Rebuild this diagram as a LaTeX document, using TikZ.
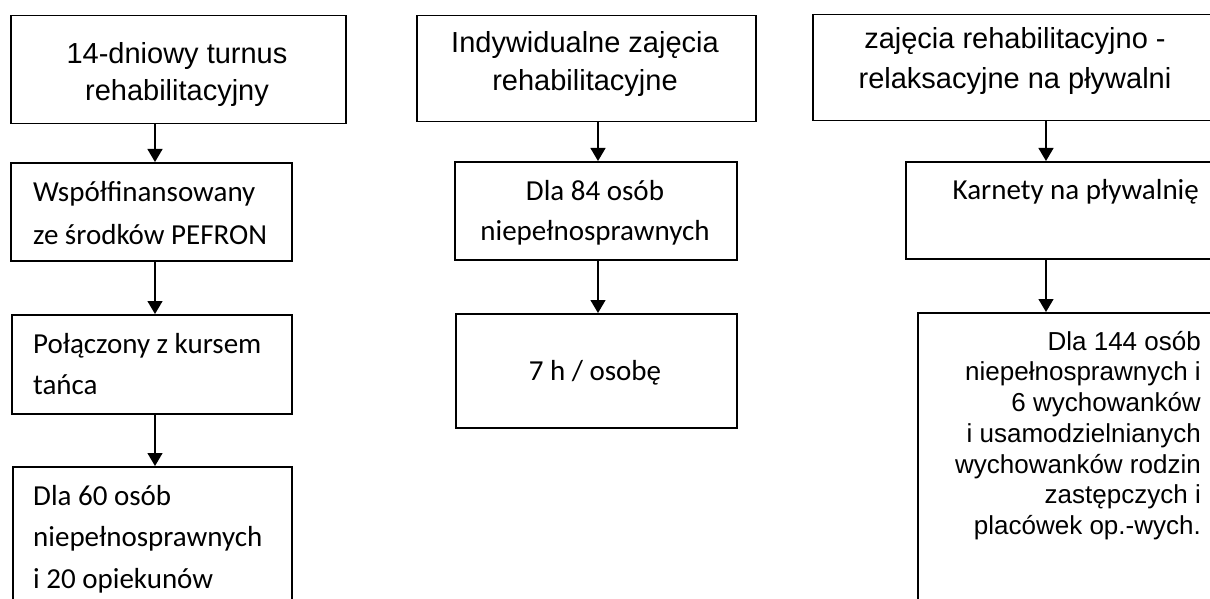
\documentclass[tikz,border=0pt]{standalone}
\usepackage{fontspec}
\setmainfont{Liberation Sans}
\newfontfamily\calib{Carlito}
\usetikzlibrary{arrows.meta}
\newcommand\topst{\rule{0pt}{30pt}}
\begin{document}
\begin{tikzpicture}[x=1pt,y=-1pt,
  box/.style={draw, line width=1.5pt, rectangle, inner sep=0pt, anchor=north west},
  arr/.style={line width=1.3pt, -{Triangle[length=13pt,width=15pt]}},
  ar/.style={inner sep=0pt, align=center, font=\fontsize{29}{37}\selectfont},
  cb/.style={inner sep=0pt, align=left, font=\calib\fontsize{29}{42}\selectfont},
]
\useasboundingbox (0,0) rectangle (1210,599);
\clip (0,0) rectangle (1210,599);

% boxes
\node[box, minimum width=335pt, minimum height=108pt] (a1) at (10,15) {};
\node[box, minimum width=281pt, minimum height=98pt] (a2) at (10,162) {};
\node[box, minimum width=280pt, minimum height=99pt] (a3) at (11,314) {};
\node[box, minimum width=279pt, minimum height=200pt] (a4) at (12,466) {};
\node[box, minimum width=339pt, minimum height=106pt] (b1) at (416,15) {};
\node[box, minimum width=282pt, minimum height=98pt] (b2) at (454,161) {};
\node[box, minimum width=281pt, minimum height=114pt] (b3) at (455,313) {};
\node[box, minimum width=450pt, minimum height=106pt] (c1) at (812,14) {};
\node[box, minimum width=350pt, minimum height=97pt] (c2) at (905,161) {};
\node[box, minimum width=350pt, minimum height=350pt] (c3) at (917,312) {};

% texts
\node[ar, anchor=north] (a1t) at (177,33) {\topst 14-dniowy turnus\\rehabilitacyjny};
\node[cb, anchor=north west, font=\calib\fontsize{29}{43}\selectfont] (a2t) at (33,171) {\topst Współfinansowany\\ze środków PEFRON};
\node[cb, anchor=north west, font=\calib\fontsize{29}{41}\selectfont] (a3t) at (33,323) {\topst Połączony z kursem\\tańca};
\node[cb, anchor=north west, font=\calib\fontsize{29}{41.5}\selectfont] (a4t) at (33,475) {\topst Dla 60 osób\\niepełnosprawnych\\i 20 opiekunów};
\node[ar, anchor=north, font=\fontsize{29}{38}\selectfont] (b1t) at (585,22) {\topst Indywidualne zajęcia\\rehabilitacyjne};
\node[cb, anchor=north, align=center, font=\calib\fontsize{29}{40}\selectfont] (b2t) at (595,170) {\topst Dla 84 osób\\niepełnosprawnych};
\node[cb, anchor=north, align=center] (b3t) at (595,350) {\topst 7 h / osobę};
\node[ar, anchor=north, font=\fontsize{29}{40}\selectfont] (c1t) at (1015,18) {\topst zajęcia rehabilitacyjno -\\relaksacyjne na pływalni};
\node[cb, anchor=north east] (c2t) at (1199,169) {\topst Karnety na pływalnię};
\node[inner sep=0pt, align=right, anchor=north east, font=\fontsize{26}{30.7}\selectfont] (c3t) at (1201,320) {\topst Dla 144 osób\\niepełnosprawnych i\\6 wychowanków\\i usamodzielnianych\\wychowanków rodzin\\zastępczych i\\placówek op.-wych.};

% connectors
\coordinate (ca) at (155,0);
\coordinate (cbx) at (598,0);
\coordinate (cc) at (1046,0);
\draw[arr] (a1.south -| ca) -- (a2.north -| ca);
\draw[arr] (a2.south -| ca) -- (a3.north -| ca);
\draw[arr] (a3.south -| ca) -- (a4.north -| ca);
\draw[arr] (b1.south -| cbx) -- (b2.north -| cbx);
\draw[arr] (b2.south -| cbx) -- (b3.north -| cbx);
\draw[arr] (c1.south -| cc) -- (c2.north -| cc);
\draw[arr] (c2.south -| cc) -- (c3.north -| cc);
\end{tikzpicture}
\end{document}
